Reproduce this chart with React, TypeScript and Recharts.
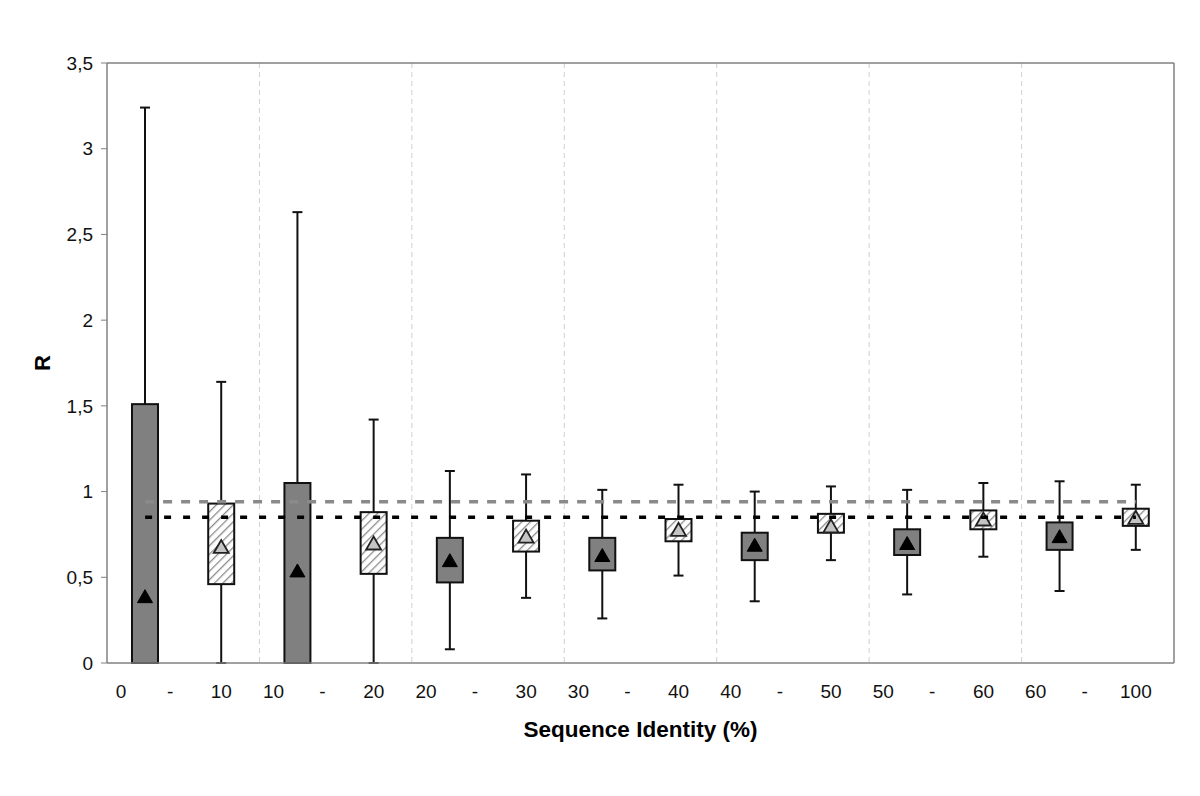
import React from "react"
import {
  Bar,
  CartesianGrid,
  ComposedChart,
  Label,
  ReferenceLine,
  XAxis,
  YAxis,
} from "recharts"

const groupLow = ["0", "10", "20", "30", "40", "50", "60"]
const groupHigh = ["10", "20", "30", "40", "50", "60", "100"]

// dark (filled) boxes
const darkMin = [0, 0, 0.08, 0.26, 0.36, 0.4, 0.42]
const darkQ1 = [0, 0, 0.47, 0.54, 0.6, 0.63, 0.66]
const darkQ3 = [1.51, 1.05, 0.73, 0.73, 0.76, 0.78, 0.82]
const darkMax = [3.24, 2.63, 1.12, 1.01, 1.0, 1.01, 1.06]
const darkMean = [0.39, 0.54, 0.6, 0.63, 0.69, 0.7, 0.74]

// hatched boxes
const hatchMin = [0, 0, 0.38, 0.51, 0.6, 0.62, 0.66]
const hatchQ1 = [0.46, 0.52, 0.65, 0.71, 0.76, 0.78, 0.8]
const hatchQ3 = [0.93, 0.88, 0.83, 0.84, 0.87, 0.89, 0.9]
const hatchMax = [1.64, 1.42, 1.1, 1.04, 1.03, 1.05, 1.04]
const hatchMean = [0.68, 0.7, 0.74, 0.78, 0.8, 0.84, 0.85]

const refGray = 0.94
const refBlack = 0.85

const yTicks = [0, 0.5, 1, 1.5, 2, 2.5, 3, 3.5]

const data = groupLow.flatMap((lo, g) => [
  {
    key: `${lo}-a`,
    group: g,
    kind: "dark",
    min: darkMin[g],
    q1: darkQ1[g],
    q3: darkQ3[g],
    max: darkMax[g],
    mean: darkMean[g],
  },
  {
    key: `${lo}-b`,
    group: g,
    kind: "hatch",
    min: hatchMin[g],
    q1: hatchQ1[g],
    q3: hatchQ3[g],
    max: hatchMax[g],
    mean: hatchMean[g],
  },
])

// slot index where each group (after the first) begins
const groupStarts = data
  .map((d, i) => (d.kind === "dark" && i > 0 ? i : -1))
  .filter((i) => i > 0)
const first = data[0].key
const last = data[data.length - 1].key

const FONT = "'Liberation Sans', Arial, Helvetica, sans-serif"
const frame = { stroke: "#808080", strokeWidth: 1.5 }

function BoxShape(props: any) {
  const { x, y, width, height, payload } = props
  if (!payload) return null
  const { min, max, q1, q3, mean, kind } = payload
  const span = max - min || 1
  const py = (v: number) => y + (height * (max - v)) / span
  const cx = x + width / 2
  const cap = 5
  const dark = kind === "dark"
  const ty = py(mean)
  return (
    <g>
      <line x1={cx} x2={cx} y1={py(max)} y2={py(min)} stroke="#111" strokeWidth={2} />
      <line x1={cx - cap} x2={cx + cap} y1={py(max)} y2={py(max)} stroke="#111" strokeWidth={2} />
      <line x1={cx - cap} x2={cx + cap} y1={py(min)} y2={py(min)} stroke="#111" strokeWidth={2} />
      <rect
        x={x}
        y={py(q3)}
        width={width}
        height={Math.max(py(q1) - py(q3), 0)}
        fill={dark ? "#808080" : "url(#hatch)"}
        stroke="#111"
        strokeWidth={2}
      />
      <polygon
        points={`${cx - 7.5},${ty + 6.5} ${cx + 7.5},${ty + 6.5} ${cx},${ty - 6.5}`}
        fill={dark ? "#000" : "#c4c4c4"}
        stroke={dark ? "#000" : "#222"}
        strokeWidth={dark ? 1 : 1.8}
      />
    </g>
  )
}

function RangeTick(props: any) {
  const { x, y, payload } = props
  const row = data[payload.index]
  const style = { fontFamily: FONT, fontSize: 19, fill: "#111" }
  if (row.kind === "dark") {
    return (
      <g>
        <text x={x - 24} y={y} dy="0.71em" textAnchor="middle" {...style}>
          {groupLow[row.group]}
        </text>
        <text x={x + 25} y={y} dy="0.71em" textAnchor="middle" {...style}>
          -
        </text>
      </g>
    )
  }
  return (
    <text x={x} y={y} dy="0.71em" textAnchor="middle" {...style}>
      {groupHigh[row.group]}
    </text>
  )
}

export default function App() {
  return (
    <ComposedChart
      width={1184}
      height={780}
      data={data}
      margin={{ top: 54, right: 17, left: 20, bottom: 37 }}
      style={{ fontFamily: FONT }}
    >
      <defs>
        <pattern
          id="hatch"
          patternUnits="userSpaceOnUse"
          width={6}
          height={6}
          patternTransform="rotate(45)"
        >
          <rect width={6} height={6} fill="#fff" />
          <line x1={0} y1={0} x2={0} y2={6} stroke="#8c8c8c" strokeWidth={2.6} />
        </pattern>
      </defs>
      <XAxis
        dataKey="key"
        type="category"
        height={88}
        axisLine={frame}
        tickLine={false}
        tickMargin={16}
        interval={0}
        tick={<RangeTick />}
      >
        <Label
          content={({ viewBox }: any) => (
            <text
              x={viewBox.x + viewBox.width / 2}
              y={viewBox.y + 74}
              textAnchor="middle"
              fontFamily={FONT}
              fontWeight="bold"
              fontSize={22.5}
              fill="#000"
            >
              Sequence Identity (%)
            </text>
          )}
        />
      </XAxis>
      <XAxis
        xAxisId="top"
        orientation="top"
        dataKey="key"
        height={1}
        tick={false}
        tickLine={false}
        axisLine={frame}
      />
      <YAxis
        domain={[0, 3.5]}
        ticks={yTicks}
        width={79}
        interval={0}
        axisLine={frame}
        tickLine={{ stroke: "#808080" }}
        tickSize={6}
        tickMargin={8}
        tick={{ fontSize: 19, fill: "#111", fontFamily: FONT }}
        tickFormatter={(v: number) => String(v).replace(".", ",")}
      >
        <Label
          content={({ viewBox }: any) => {
            const cx = viewBox.x + 14
            const cy = viewBox.y + viewBox.height / 2
            return (
              <text
                x={cx}
                y={cy}
                transform={`rotate(-90, ${cx}, ${cy})`}
                textAnchor="middle"
                dominantBaseline="central"
                fontFamily={FONT}
                fontWeight="bold"
                fontSize={22}
                fill="#000"
              >
                R
              </text>
            )
          }}
        />
      </YAxis>
      <YAxis
        yAxisId="right"
        orientation="right"
        domain={[0, 3.5]}
        width={1}
        tick={false}
        tickLine={false}
        axisLine={frame}
      />
      <CartesianGrid
        horizontal={false}
        vertical
        stroke="#d0d0d0"
        strokeDasharray="5 4"
        verticalCoordinatesGenerator={({ offset }: any) =>
          groupStarts.map((i) => offset.left + (offset.width * i) / data.length)
        }
      />
      <ReferenceLine
        segment={[
          { x: first, y: refGray },
          { x: last, y: refGray },
        ]}
        stroke="#8a8a8a"
        strokeWidth={3.5}
        strokeDasharray="9 9"
      />
      <Bar
        dataKey={(d: any) => [d.min, d.max]}
        barSize={26}
        shape={<BoxShape />}
        isAnimationActive={false}
      />
      <ReferenceLine
        segment={[
          { x: first, y: refBlack },
          { x: last, y: refBlack },
        ]}
        stroke="#000"
        strokeWidth={3.5}
        strokeDasharray="7 12"
      />
    </ComposedChart>
  )
}
